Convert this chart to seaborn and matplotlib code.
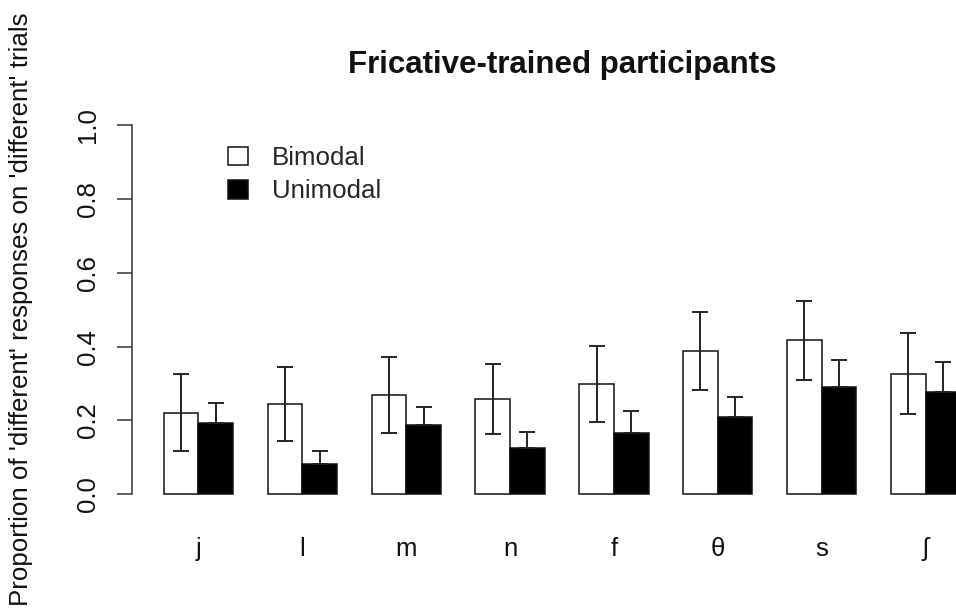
import matplotlib
matplotlib.use("Agg")
import matplotlib.pyplot as plt
import seaborn as sns
import pandas as pd
import numpy as np

# ---- data ----
sounds = ['j', 'l', 'm', 'n', 'f', 'θ', 's', 'ʃ']
conditions = ['Bimodal', 'Unimodal']
bimodal = [0.221, 0.244, 0.269, 0.258, 0.298, 0.388, 0.417, 0.327]
bimodal_se = [0.104, 0.100, 0.103, 0.096, 0.103, 0.106, 0.107, 0.109]
unimodal = [0.194, 0.083, 0.187, 0.125, 0.167, 0.209, 0.291, 0.276]
unimodal_se = [0.052, 0.033, 0.049, 0.043, 0.059, 0.054, 0.073, 0.083]
y_ticks = [0.0, 0.2, 0.4, 0.6, 0.8, 1.0]
y_tick_labels = ['0.0', '0.2', '0.4', '0.6', '0.8', '1.0']
title = 'Fricative-trained participants'
ylabel = "Proportion of 'different' responses on 'different' trials"

sns.set_style('white')
plt.rcParams['font.family'] = ['Liberation Sans', 'DejaVu Sans']

df = pd.DataFrame({
    'sound': sounds * 2,
    'condition': ['Bimodal'] * len(sounds) + ['Unimodal'] * len(sounds),
    'value': bimodal + unimodal,
})

fig = plt.figure(figsize=(9.56, 6.15), dpi=100)
W, H = 956, 615
ax = fig.add_axes([132 / W, 1 - 509.1 / H, 860 / W, (509.1 - 110.2) / H])

sns.barplot(data=df, x='sound', y='value', hue='condition', order=sounds,
            hue_order=conditions, palette={'Bimodal': 'white', 'Unimodal': 'black'},
            saturation=1, edgecolor='#111111', linewidth=1.1, width=2 / 3,
            errorbar=None, ax=ax)

# error bars at the bar centres produced by seaborn
for cont, vals, se, cond in zip(ax.containers, [bimodal, unimodal],
                                [bimodal_se, unimodal_se], conditions):
    xs = [p.get_x() + p.get_width() / 2 for p in cont.patches]
    se = np.asarray(se)
    lower = se if cond == 'Bimodal' else np.zeros_like(se)
    ax.errorbar(xs, vals, yerr=[lower, se], fmt='none', ecolor='#222222',
                elinewidth=1.4, capsize=5.8, capthick=1.4, zorder=5)

ax.set_xlim(-0.64, 7.64)
ax.set_ylim(-0.04, 1.04)
ax.set_yticks(y_ticks)
ax.set_yticklabels(y_tick_labels)
ax.set_xlabel('')
ax.set_ylabel(ylabel, fontsize=18.6, color='#111111')
ax.yaxis.set_label_coords((21 - 132) / 860, 0.5)
ax.yaxis.label.set_va('center')

for s in ['top', 'right', 'bottom']:
    ax.spines[s].set_visible(False)
ax.spines['left'].set_bounds(0, 1)
ax.spines['left'].set_color('#333333')
ax.spines['left'].set_linewidth(1.1)

ax.tick_params(axis='x', length=0, pad=20, labelsize=18.6, labelcolor='#111111')
ax.tick_params(axis='y', length=11, width=1.1, color='#333333', pad=12,
               labelsize=18.6, labelcolor='#111111', left=True)
for lbl in ax.get_yticklabels():
    lbl.set_rotation(90)
    lbl.set_va('center')

ax.set_title(title, fontsize=22.5, fontweight='bold', y=1 + 37 / 398.9,
             va='baseline', color='#111111', pad=0)

handles, labels = ax.get_legend_handles_labels()
ax.legend(handles, labels, frameon=False, loc='upper left',
          bbox_to_anchor=((228 - 132) / 860, (509 - 146) / 398.9),
          borderpad=0, borderaxespad=0, handlelength=0.76, handleheight=0.72,
          handletextpad=0.95, labelspacing=0.36, fontsize=18.6)

fig.savefig('out.png', dpi=100)
